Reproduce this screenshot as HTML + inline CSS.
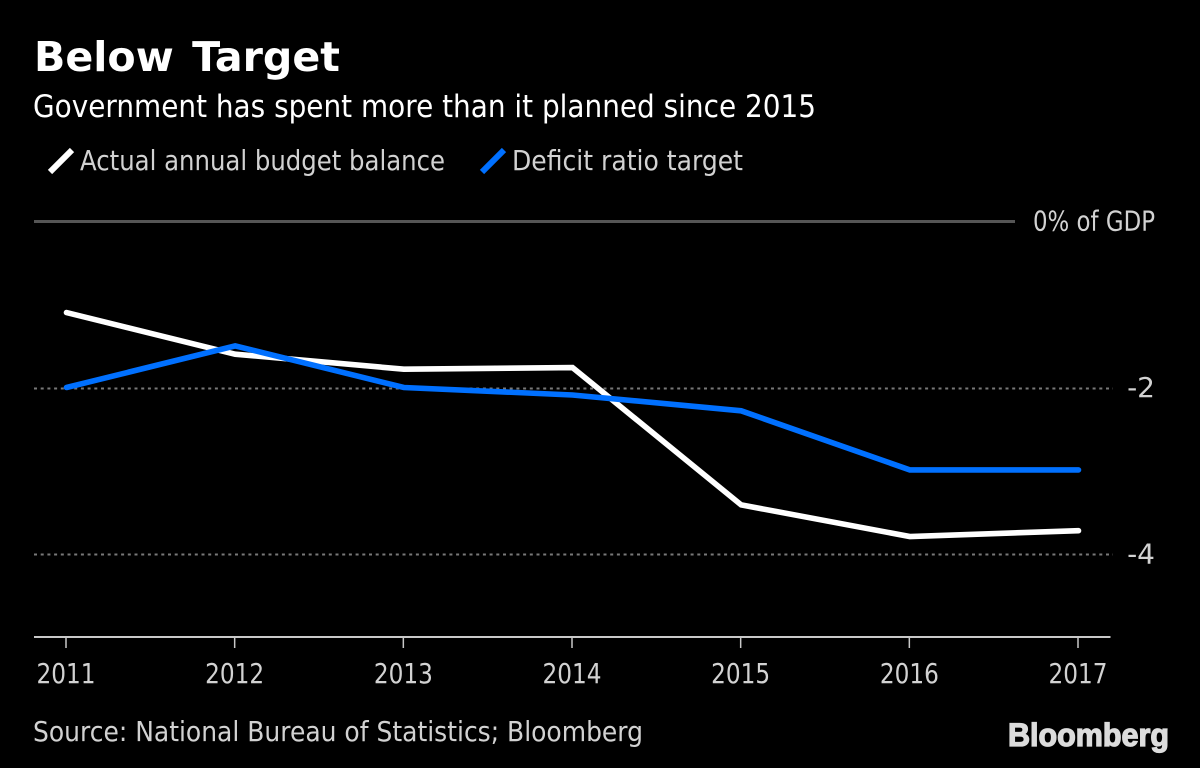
<!DOCTYPE html>
<html lang="en">
<head>
<meta charset="utf-8">
<title>Below Target</title>
<style>
html,body{margin:0;padding:0;background:#000;width:1200px;height:768px;overflow:hidden}
svg{display:block}
text{font-family:"DejaVu Sans","Liberation Sans",sans-serif}
</style>
</head>
<body>
<svg id="chart" width="1200" height="768" viewBox="0 0 1200 768" xmlns="http://www.w3.org/2000/svg">
<rect x="0" y="0" width="1200" height="768" fill="#000"/>
<text x="34" y="71" font-size="41" font-weight="700" fill="#fff" word-spacing="4" textLength="306" lengthAdjust="spacingAndGlyphs">Below Target</text>
<text x="33" y="117" font-size="31" fill="#fff" textLength="783" lengthAdjust="spacingAndGlyphs">Government has spent more than it planned since 2015</text>
<g>
<line x1="50" y1="172" x2="72" y2="150" stroke="#fff" stroke-width="6"/>
<text x="80" y="170" font-size="28" fill="#d2d2d2" textLength="365" lengthAdjust="spacingAndGlyphs">Actual annual budget balance</text>
<line x1="482" y1="172" x2="504" y2="150" stroke="#0070ff" stroke-width="6"/>
<text x="512" y="170" font-size="28" fill="#d2d2d2" textLength="231" lengthAdjust="spacingAndGlyphs">Deficit ratio target</text>
</g>
<g id="grid"></g>
<g id="xaxis"></g>
<g id="series"></g>
<text x="33" y="741" font-size="28" fill="#d2d2d2" textLength="610" lengthAdjust="spacingAndGlyphs">Source: National Bureau of Statistics; Bloomberg</text>
<text x="1008" y="746" font-size="32" font-weight="700" fill="#dcdcdc" stroke="#dcdcdc" stroke-width="1.3" textLength="161" lengthAdjust="spacingAndGlyphs" style="font-family:'Liberation Sans',sans-serif">Bloomberg</text>
</svg>
<script>
const years = ["2011","2012","2013","2014","2015","2016","2017"];
const actualBalance = [-1.1,-1.6,-1.78,-1.76,-3.41,-3.79,-3.72];
const deficitTarget = [-2,-1.5,-2,-2.09,-2.28,-2.99,-2.99];
const yTickValues = [0,-2,-4];
const yTickLabels = ["0% of GDP","-2","-4"];

const NS = "http://www.w3.org/2000/svg";
const xScale = i => 66 + i * (1078 - 66) / (years.length - 1);
const yScale = v => 221 - v * 83.25;

function make(tag, attrs, parent) {
  const el = document.createElementNS(NS, tag);
  for (const k in attrs) el.setAttribute(k, attrs[k]);
  parent.appendChild(el);
  return el;
}

const grid = document.getElementById("grid");
yTickValues.forEach((v, i) => {
  const isZero = v === 0;
  const snappedY = Math.ceil(yScale(v)) + 0.5;
  const line = make("line", {
    x1: 34, x2: isZero ? 1015 : 1113, y1: snappedY, y2: snappedY,
    stroke: isZero ? "#555" : "#787878",
    "stroke-width": isZero ? 3 : 2,
    "stroke-dasharray": isZero ? "none" : "3 3.7"
  }, grid);
  
  
  const label = make("text", {
    x: 1155, y: yScale(v) + 9.5, "font-size": 28, fill: "#d2d2d2", "text-anchor": "end"
  }, grid);
  
  
  label.textContent = yTickLabels[i];
  if (isZero) {
    label.setAttribute("textLength", 122);
    label.setAttribute("lengthAdjust", "spacingAndGlyphs");
  }
});

const xaxis = document.getElementById("xaxis");
const axisLine = make("line", {x1: 34, x2: 1110.5, y1: 637, y2: 637, stroke: "#c8c8c8", "stroke-width": 2}, xaxis);


years.forEach((yr, i) => {
  const tick = make("line", {x1: xScale(i), x2: xScale(i), y1: 637, y2: 648, stroke: "#c8c8c8", "stroke-width": 1.5}, xaxis);
  
  
  const label = make("text", {
    x: xScale(i), y: 683, "font-size": 28, fill: "#d2d2d2", "text-anchor": "middle",
    textLength: 59, lengthAdjust: "spacingAndGlyphs"
  }, xaxis);
  
  
  label.textContent = yr;
});

const series = document.getElementById("series");
const linePoints = vals => vals.map((v, i) => (xScale(i) + 0.5) + "," + yScale(v)).join(" ");
const actualLine = make("polyline", {
  points: linePoints(actualBalance), fill: "none", stroke: "#fff", "stroke-width": 5.6,
  "stroke-linecap": "round", "stroke-linejoin": "miter"
}, series);


const targetLine = make("polyline", {
  points: linePoints(deficitTarget), fill: "none", stroke: "#0070ff", "stroke-width": 5.6,
  "stroke-linecap": "round", "stroke-linejoin": "miter"
}, series);


</script>
</body>
</html>
